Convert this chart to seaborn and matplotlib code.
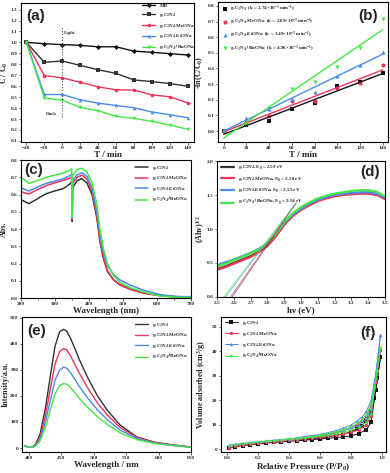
import numpy as np
import matplotlib
matplotlib.use("Agg")
import matplotlib.pyplot as plt
import seaborn as sns
from matplotlib.ticker import MultipleLocator, FormatStrFormatter

sns.set_style("ticks")
plt.rcParams['font.family'] = ['Liberation Serif', 'DejaVu Serif']
plt.rcParams['font.weight'] = 'bold'
plt.rcParams['mathtext.fontset'] = 'custom'
plt.rcParams['mathtext.rm'] = 'Liberation Serif:bold'
plt.rcParams['mathtext.it'] = 'Liberation Serif:italic:bold'
plt.rcParams['mathtext.default'] = 'rm'

# colours
c_mb = '#111111'
c_cn = '#333333'
c_me = '#ee3556'
c_et = '#4a8cec'
c_bu = '#44e844'

cn = 'g-C$_3$N$_4$'
names_a = ['MB', cn, cn + '-MeONa', cn + '-EtONa', cn + '-$^t$BuONa']
names_c = [cn, cn + '-MeONa', cn + '-EtONa', cn + '/$^t$BuONa']

# (a) photodegradation C/C0
t_a = [-40, -20, 0, 20, 40, 60, 80, 100, 120, 140]
a_mb = [1.0, 0.988, 0.98, 0.973, 0.96, 0.96, 0.92, 0.91, 0.897, 0.885]
a_cn = [1.0, 0.818, 0.83, 0.79, 0.75, 0.717, 0.657, 0.642, 0.624, 0.60]
a_me = [1.0, 0.697, 0.676, 0.636, 0.594, 0.567, 0.564, 0.521, 0.503, 0.448]
a_et = [1.0, 0.524, 0.524, 0.476, 0.445, 0.424, 0.403, 0.364, 0.339, 0.312]
a_bu = [1.0, 0.491, 0.473, 0.406, 0.376, 0.324, 0.306, 0.279, 0.245, 0.206]

# (b) kinetics -ln(C/C0)
t_b = [0, 20, 40, 60, 80, 100, 120, 140]
b_cn = [0.0, 0.038, 0.062, 0.144, 0.18, 0.285, 0.312, 0.37]
b_me = [0.0, 0.057, 0.096, 0.195, 0.195, 0.276, 0.306, 0.423]
b_et = [0.004, 0.085, 0.142, 0.204, 0.248, 0.355, 0.425, 0.507]
b_bu = [0.0, 0.036, 0.146, 0.268, 0.314, 0.408, 0.531, 0.716]
k_vals = ['2.74', '2.69', '3.49', '4.96']

# (c) UV-vis absorbance
wl_c = [200, 210, 223, 240, 256, 275, 295, 325, 344, 349, 350.5, 352, 365, 379,
        394, 409, 423, 432, 442, 454, 472, 491, 521, 560, 609, 658, 700]
c_cn_abs = [.570, .560, .547, .565, .585, .605, .618, .635, .661, .675, .444, .640, .680, .692,
            .667, .600, .464, .330, .232, .155, .106, .077, .052, .029, .015, .008, .006]
c_me_abs = [.618, .610, .603, .620, .635, .652, .665, .682, .695, .702, .455, .665, .700, .712,
            .690, .620, .480, .340, .240, .160, .105, .075, .050, .028, .013, .006, .004]
c_et_abs = [.640, .630, .620, .635, .650, .665, .675, .692, .710, .715, .465, .680, .715, .726,
            .705, .640, .500, .370, .265, .190, .135, .105, .075, .045, .020, .008, .008]
c_bu_abs = [.700, .685, .665, .675, .685, .700, .710, .725, .740, .750, .470, .710, .745, .752,
            .730, .670, .540, .400, .290, .200, .130, .090, .060, .035, .012, .004, .002]

# (d) Tauc plot
hv = [2.5, 2.55, 2.6, 2.65, 2.7, 2.75, 2.8, 2.85, 2.9, 2.95, 3.0, 3.05, 3.1,
      3.15, 3.2, 3.25, 3.3, 3.35, 3.4, 3.45, 3.47, 3.5]
d_cn = [0.41, 0.45, 0.50, 0.55, 0.60, 0.67, 0.76, 0.90, 1.07, 1.20, 1.29, 1.36, 1.42,
        1.46, 1.49, 1.51, 1.52, 1.53, 1.53, 1.51, 1.49, 1.45]
d_me = [0.40, 0.44, 0.49, 0.54, 0.59, 0.66, 0.75, 0.89, 1.06, 1.19, 1.28, 1.35, 1.41,
        1.45, 1.48, 1.50, 1.51, 1.52, 1.52, 1.50, 1.48, 1.44]
d_et = [0.47, 0.51, 0.55, 0.60, 0.65, 0.71, 0.79, 0.93, 1.09, 1.21, 1.30, 1.37, 1.43,
        1.47, 1.50, 1.52, 1.53, 1.54, 1.54, 1.52, 1.50, 1.46]
d_bu = [0.45, 0.49, 0.54, 0.59, 0.64, 0.70, 0.79, 0.93, 1.10, 1.23, 1.32, 1.39, 1.45,
        1.49, 1.52, 1.54, 1.56, 1.57, 1.57, 1.55, 1.52, 1.48]
eg = [2.59, 2.58, 2.55, 2.54]
tangent_top = (2.97, 1.38)

# (e) PL spectra
wl_e = [393, 400, 405, 410, 417, 425, 433, 440, 447, 453, 458, 464, 470, 477,
        490, 505, 521, 541, 567, 593, 619, 650]
e_cn = [9, 3, 5, 14, 55, 150, 280, 390, 445, 455, 448, 420, 385, 342, 272, 202, 144, 87, 42, 23, 13, 4]
e_me = [9, 3, 4, 11, 44, 122, 230, 322, 369, 381, 376, 353, 324, 289, 232, 175, 126, 78, 40, 22, 12, 4]
e_et = [10, 3, 4, 9, 35, 98, 185, 260, 298, 310, 306, 289, 266, 238, 193, 148, 108, 68, 36, 20, 11, 4]
e_bu = [10, 4, 4, 8, 28, 78, 148, 208, 239, 247, 245, 232, 214, 192, 157, 121, 90, 58, 32, 18, 10, 3]

# (f) N2 isotherms
p_ads = [0.01, 0.05, 0.1, 0.15, 0.2, 0.25, 0.3, 0.35, 0.4, 0.45, 0.5, 0.55, 0.6,
         0.65, 0.7, 0.75, 0.8, 0.85, 0.9, 0.93, 0.96, 0.99]
p_des = [0.99, 0.97, 0.95, 0.93, 0.9, 0.87, 0.84, 0.8, 0.75, 0.7, 0.65, 0.6, 0.55, 0.5, 0.45]
f_cn_ads = [0.3, 1.0, 1.4, 1.8, 2.1, 2.4, 2.7, 2.9, 3.2, 3.4, 3.6, 3.9, 4.1, 4.4, 4.7, 5.0, 5.4, 6.3, 8.0, 11.0, 24.0, 37.5]
f_cn_des = [37.5, 29, 21, 15, 11.5, 9.5, 8.2, 7.0, 6.2, 5.5, 5.0, 4.6, 4.2, 3.8, 3.5]
f_me_ads = [0.5, 1.2, 1.6, 2.0, 2.4, 2.7, 3.0, 3.3, 3.6, 3.9, 4.2, 4.5, 4.8, 5.2, 5.6, 6.1, 6.8, 7.8, 10.0, 13.5, 27.5, 40.5]
f_me_des = [40.5, 32, 25, 18, 13.5, 11.5, 10.0, 8.6, 7.5, 6.6, 5.9, 5.3, 4.8, 4.4, 4.0]
f_et_ads = [1.5, 2.0, 2.3, 2.7, 3.0, 3.3, 3.6, 3.9, 4.2, 4.6, 5.0, 5.4, 5.8, 6.3, 6.9, 7.6, 8.5, 9.8, 12.5, 16.5, 30.5, 46.5]
f_et_des = [46.5, 35, 27, 20, 15.5, 13.0, 11.5, 9.8, 8.5, 7.5, 6.7, 6.0, 5.5, 5.0, 4.6]
f_bu_ads = [1.2, 1.8, 2.1, 2.5, 2.8, 3.1, 3.4, 3.7, 4.0, 4.3, 4.6, 5.0, 5.3, 5.7, 6.2, 6.8, 7.6, 8.7, 11.0, 14.5, 28.5, 41.5]
f_bu_des = [41.5, 32, 25, 18.5, 14.0, 12.0, 10.5, 9.0, 7.9, 7.0, 6.2, 5.6, 5.1, 4.7, 4.3]

W, H = 390, 473
fig = plt.figure(figsize=(W / 100, H / 100), dpi=100)


def add_ax(l, t, r, b):
    return fig.add_axes([l / W, 1 - b / H, (r - l) / W, (b - t) / H])


def style(ax, xlabel, ylabel, xl_y, yl_x):
    for s in ax.spines.values():
        s.set_linewidth(0.8)
        s.set_color('black')
    ax.tick_params(which='both', labelsize=3.8, width=0.5, length=1.8, pad=0.8, direction='out')
    ax.tick_params(which='minor', length=1.1)
    ax.set_xlabel(xlabel, fontsize=6.5, fontweight='bold')
    ax.set_ylabel(ylabel, fontsize=5.8, fontweight='bold')
    ax.xaxis.set_label_coords(0.5, xl_y)
    ax.yaxis.set_label_coords(yl_x, 0.5)


def panel_label(ax, s, x, y, ha):
    ax.text(x, y, s, transform=ax.transAxes, ha=ha, va='top', fontsize=11,
            fontweight='bold', family=['Liberation Sans', 'DejaVu Sans'])


def small_legend(ax, loc, anchor=None, hl=2.6, htp=0.8):
    leg = ax.legend(loc=loc, bbox_to_anchor=anchor, frameon=False, fontsize=3.6,
                    handlelength=hl, handletextpad=htp, labelspacing=0.55,
                    borderaxespad=0.3)
    return leg


# ---------- (a)
ax = add_ax(21, 3, 194, 142)
series_a = [(a_mb, c_mb, 'D'), (a_cn, c_cn, 's'), (a_me, c_me, 'o'), (a_et, c_et, '^'), (a_bu, c_bu, 'v')]
for (yv, col, mk), nm in zip(series_a, names_a):
    sns.lineplot(x=t_a, y=yv, color=col, marker=mk, markersize=2.6, markeredgewidth=0,
                 linewidth=1.0, label=nm, ax=ax)
ax.axvline(0, ymin=(0.32 - 0.09) / 1.27, ymax=(1.15 - 0.09) / 1.27, color='#555555',
           linestyle=':', linewidth=0.8)
ax.text(2, 1.08, 'Light', fontsize=3.6, color='#333333')
ax.text(-6, 0.34, 'Dark', fontsize=3.6, color='#333333', ha='right')
ax.set_xlim(-46, 147)
ax.set_ylim(0.09, 1.36)
ax.set_xticks(range(-40, 141, 20))
ax.set_yticks(np.arange(0.1, 1.31, 0.1))
ax.yaxis.set_major_formatter(FormatStrFormatter('%.1f'))
style(ax, 'T / min', 'C / C$_0$', -0.065, -0.065)
small_legend(ax, 'upper right', (1.03, 1.02))
panel_label(ax, '(a)', 0.03, 0.96, 'left')

# ---------- (b)
ax = add_ax(218, 2, 388, 142)
series_b = [(b_cn, c_mb, 's'), (b_me, c_me, 'o'), (b_et, c_et, '^'), (b_bu, c_bu, 'v')]
for (yv, col, mk), nm, k in zip(series_b, names_a[1:], k_vals):
    lab = nm + '  (k = ' + k + '×10$^{-3}$ min$^{-1}$)'
    sns.regplot(x=t_b, y=yv, scatter=False, ci=None, color=col, line_kws={'linewidth': 1.0}, ax=ax)
    sns.scatterplot(x=t_b, y=yv, color=col, marker=mk, s=9, linewidth=0, label=lab, ax=ax)
ax.set_xlim(-5, 144.5)
ax.set_ylim(-0.07, 0.825)
ax.set_xticks(range(0, 141, 20))
ax.set_yticks(np.arange(0, 0.81, 0.1))
ax.yaxis.set_major_formatter(FormatStrFormatter('%.1f'))
style(ax, 'T / min', '-ln(C/C$_0$)', -0.065, -0.078)
small_legend(ax, 'upper left', (0.0, 1.01), hl=1.2, htp=0.4)
panel_label(ax, '(b)', 0.94, 0.95, 'right')

# ---------- (c)
ax = add_ax(21, 160, 191, 298)
for yv, col, nm in zip([c_cn_abs, c_me_abs, c_et_abs, c_bu_abs], [c_cn, c_me, c_et, c_bu], names_c):
    sns.lineplot(x=wl_c, y=yv, color=col, linewidth=1.1, label=nm, ax=ax)
ax.set_xlim(200, 700)
ax.set_ylim(0, 0.8)
ax.set_xticks(range(200, 701, 100))
ax.xaxis.set_minor_locator(MultipleLocator(50))
ax.set_yticks(np.arange(0, 0.81, 0.1))
ax.yaxis.set_major_formatter(FormatStrFormatter('%.1f'))
style(ax, 'Wavelength (nm)', 'Abs.', -0.065, -0.074)
small_legend(ax, 'upper right', (1.0, 1.0))
panel_label(ax, '(c)', 0.02, 0.98, 'left')

# ---------- (d)
ax = add_ax(217, 161, 385, 297)
names_d = [nm + ', E$_g$ = ' + '%.2f' % e + ' eV' for nm, e in
           zip([cn, cn + '-MeONa', cn + '-EtONa', cn + '-$^t$BuONa'], eg)]
cols_d = [c_cn, c_me, c_et, c_bu]
for yv, col, nm in zip([d_cn, d_me, d_et, d_bu], cols_d, names_d):
    sns.lineplot(x=hv, y=yv, color=col, linewidth=1.6, label=nm, ax=ax)
for e, col in zip(eg, cols_d):
    sns.lineplot(x=[e - 0.02, tangent_top[0]],
                 y=[-0.02 / (tangent_top[0] - e) * tangent_top[1], tangent_top[1]],
                 color=col, linewidth=0.6, alpha=0.7, ax=ax)
ax.set_xlim(2.5, 3.5)
ax.set_ylim(0, 2.0)
ax.set_xticks(np.arange(2.5, 3.51, 0.1))
ax.xaxis.set_major_formatter(FormatStrFormatter('%.1f'))
ax.set_yticks(np.arange(0, 2.01, 0.5))
ax.yaxis.set_major_formatter(FormatStrFormatter('%.1f'))
style(ax, 'h\u03bd (eV)', '(Ah\u03bd)$^{1/2}$', -0.065, -0.062)
small_legend(ax, 'upper left', (0.0, 1.01))
panel_label(ax, '(d)', 0.97, 0.97, 'right')

# ---------- (e)
ax = add_ax(22, 317, 191, 452)
for yv, col, nm in zip([e_cn, e_me, e_et, e_bu], [c_cn, c_me, c_et, c_bu], names_c):
    sns.lineplot(x=wl_e, y=yv, color=col, linewidth=1.0, label=nm, ax=ax)
ax.set_xlim(389, 650)
ax.set_ylim(-15, 502)
ax.set_xticks(range(400, 651, 50))
ax.set_yticks(range(0, 501, 100))
style(ax, 'Wavelength / nm', 'Intensity/a.u.', -0.068, -0.071)
small_legend(ax, 'upper right', (1.0, 1.0))
panel_label(ax, '(e)', 0.03, 0.95, 'left')

# ---------- (f)
ax = add_ax(221, 317, 386, 452)
series_f = [(f_cn_ads, f_cn_des, c_mb, 's'), (f_me_ads, f_me_des, c_me, 'o'),
            (f_et_ads, f_et_des, c_et, '^'), (f_bu_ads, f_bu_des, c_bu, 'v')]
for (ya, yd, col, mk), nm in zip(series_f, names_c):
    sns.lineplot(x=p_ads, y=ya, color=col, marker=mk, markersize=2.4, markeredgewidth=0,
                 linewidth=0.7, label=nm, ax=ax)
    sns.lineplot(x=p_des, y=yd, color=col, marker=mk, markersize=2.4, markeredgewidth=0,
                 linewidth=0.7, ax=ax)
ax.set_xlim(-0.04, 1.026)
ax.set_ylim(-1.2, 54)
ax.set_xticks(np.arange(0, 1.01, 0.2))
ax.xaxis.set_major_formatter(FormatStrFormatter('%.1f'))
ax.set_yticks(range(0, 51, 10))
style(ax, 'Relative Pressure (P/P$_0$)', 'Volume adsorbed (cm$^3$/g)', -0.068, -0.079)
small_legend(ax, 'upper left', (0.0, 1.01))
panel_label(ax, '(f)', 0.94, 0.93, 'right')

fig.savefig('out.png', dpi=100)
